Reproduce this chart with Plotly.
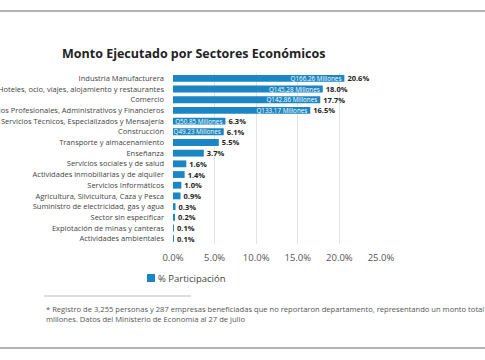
import plotly.graph_objects as go

sectors = [
    "Industria Manufacturera",
    "Hoteles, ocio, viajes, alojamiento y restaurantes",
    "Comercio",
    "Servicios Profesionales, Administrativos y Financieros",
    "Servicios Técnicos, Especializados y Mensajería",
    "Construcción",
    "Transporte y almacenamiento",
    "Enseñanza",
    "Servicios sociales y de salud",
    "Actividades inmobiliarias y de alquiler",
    "Servicios Informáticos",
    "Agricultura, Silvicultura, Caza y Pesca",
    "Suministro de electricidad, gas y agua",
    "Sector sin especificar",
    "Explotación de minas y canteras",
    "Actividades ambientales",
]
participation = [20.6, 18.0, 17.7, 16.5, 6.3, 6.1, 5.5, 3.7, 1.6, 1.4, 1.0, 0.9, 0.3, 0.2, 0.1, 0.1]
amounts = ["Q166.26 Millones", "Q145.28 Millones", "Q142.86 Millones", "Q133.17 Millones",
           "Q50.85 Millones", "Q49.23 Millones", "", "", "", "", "", "", "", "", "", ""]
tick_vals = [0, 5, 10, 15, 20, 25]
tick_text = ["0.0%", "5.0%", "10.0%", "15.0%", "20.0%", "25.0%"]

BLUE = "#1b86c3"
FONT = "Open Sans"

# plot area in window pixels
PL, PR, PT, PB = 173, 381, 73, 244
PW, PH = PR - PL, PB - PT


def px(X):
    return (X - PL) / PW


def py(Y):
    return (PB - Y) / PH


fig = go.Figure()
fig.add_trace(go.Bar(
    y=sectors, x=participation, orientation="h",
    name="% Participación",
    marker=dict(color=BLUE, line=dict(width=0)),
    width=0.64,
    text=[f"{v:.1f}%" for v in participation],
    textposition="outside",
    textfont=dict(family=FONT, size=7.5, color="#222222", weight="bold"),
    constraintext="none",
    cliponaxis=False,
    showlegend=False,
))
fig.add_trace(go.Bar(
    y=sectors, x=participation, orientation="h",
    showlegend=False,
    marker=dict(color="rgba(0,0,0,0)", line=dict(width=0)),
    width=0.64,
    text=amounts,
    textposition="inside",
    insidetextanchor="end",
    textfont=dict(family=FONT, size=6.3, color="white"),
    constraintext="none",
    hoverinfo="skip",
))

fig.update_layout(
    width=485, height=360,
    barmode="overlay",
    paper_bgcolor="white", plot_bgcolor="white",
    margin=dict(l=PL, r=485 - PR, t=PT, b=360 - PB, autoexpand=False),
    font=dict(family=FONT, color="#444444"),
    showlegend=False,
    xaxis=dict(range=[0, 25], tickvals=tick_vals, ticktext=tick_text,
               showgrid=True, gridcolor="#e3e3e3", gridwidth=1,
               zeroline=False, showline=False, ticks="", ticklabelstandoff=6,
               tickfont=dict(size=9.5, color="#555555"), automargin=False),
    yaxis=dict(autorange="reversed", showgrid=False, zeroline=False, showline=False,
               ticks="", ticklabelstandoff=8,
               tickfont=dict(size=7.5, color="#444444"), automargin=False),
    shapes=[
        dict(type="line", xref="paper", yref="paper", x0=px(-10), x1=px(500), y0=py(11), y1=py(11),
             line=dict(color="#9a9a9a", width=1.5)),
        dict(type="line", xref="paper", yref="paper", x0=px(-10), x1=px(500), y0=py(348), y1=py(348),
             line=dict(color="#9a9a9a", width=1.5)),
        dict(type="line", xref="paper", yref="paper", x0=px(44), x1=px(191),
             y0=py(296), y1=py(296), line=dict(color="#bdbdbd", width=1)),
        dict(type="rect", xref="paper", yref="paper", x0=px(147), x1=px(155),
             y0=py(282), y1=py(274), fillcolor=BLUE, line=dict(width=0)),
    ],
    annotations=[
        dict(text="<b>Monto Ejecutado por Sectores Económicos</b>", xref="paper", yref="paper",
             x=px(60), y=py(54), xanchor="left", yanchor="middle",
             showarrow=False, font=dict(size=12.5, color="#222222", family=FONT)),
        dict(text="% Participación", xref="paper", yref="paper",
             x=px(156), y=py(278), xanchor="left", yanchor="middle",
             showarrow=False, font=dict(size=9.5, color="#444444", family=FONT)),
        dict(text="* Registro de 3,255 personas y 287 empresas beneficiadas que no reportaron departamento, representando un monto total de Q<br>millones. Datos del Ministerio de Economía al 27 de julio",
             xref="paper", yref="paper", x=px(44), y=py(302), xanchor="left", yanchor="top",
             align="left", showarrow=False,
             font=dict(size=7.6, color="#555555", family=FONT)),
    ],
)

fig.write_html("out.html", config={"displayModeBar": False},
               post_script="document.body.style.margin='0';document.body.style.overflow='hidden';")
